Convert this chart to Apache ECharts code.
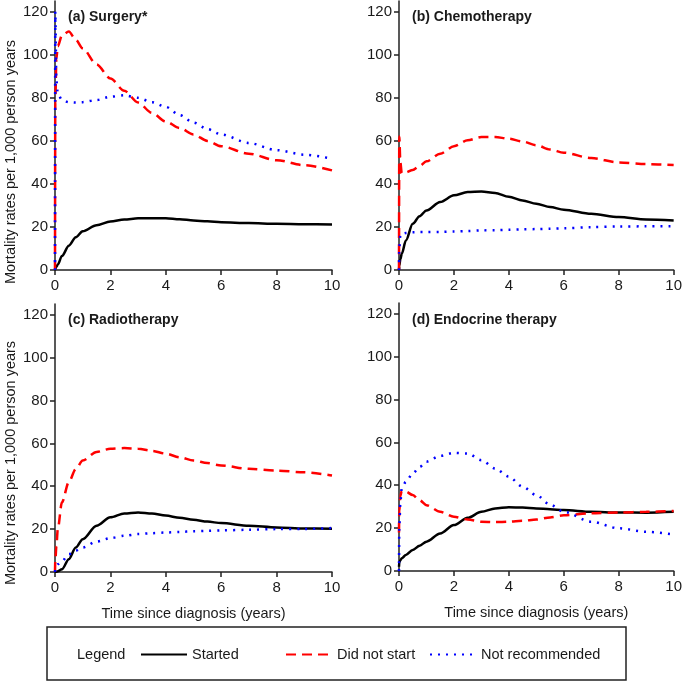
<!DOCTYPE html>
<html>
<head>
<meta charset="utf-8">
<script src="https://cdn.jsdelivr.net/npm/echarts@6/dist/echarts.min.js"></script>
<style>
	html, body { margin: 0; padding: 0; background: #fff; }
	#chart { width: 685px; height: 682px; }
</style>
</head>
<body>
<div id="chart"></div>
<script>
// time since diagnosis (years), shared by every curve
var years = [0, 0.01, 0.05, 0.1, 0.25, 0.5, 0.75, 1, 1.5, 2, 2.5, 3, 3.5, 4, 4.5, 5, 5.5, 6, 7, 8, 9, 10]

// (a) Surgery*
var surgeryStarted = [0, 0.4, 1.5, 2.5, 6.5, 11.3, 15.2, 18, 20.8, 22.5, 23.5, 24, 24.1, 24.1, 23.6, 23, 22.6, 22.2, 21.8, 21.5, 21.3, 21.2]
var surgeryNotStarted = [0, 78, 98, 104, 109, 110.8, 107, 103, 95.5, 89, 83.3, 77.8, 73, 69, 66, 63, 60, 57.5, 54, 51, 48.7, 46.3]
var surgeryNotRec = [0, 120, 88, 82, 79, 78, 77.8, 78, 79, 80.5, 81.2, 80, 78, 75.8, 72, 68.5, 65.5, 63, 59, 55.7, 53.6, 51.7]

// (b) Chemotherapy
var chemoStarted = [0, 2, 5, 7.5, 13.7, 21.5, 25, 27.7, 31.6, 34.7, 36.2, 36.5, 35.8, 34, 32.3, 30.8, 29.3, 28, 26.1, 24.6, 23.5, 23]
var chemoNotStarted = [0, 62, 50, 45, 45.3, 46.5, 48.3, 50.5, 54, 57.5, 60.3, 61.8, 61.8, 61, 59.7, 58, 56, 54.5, 52, 50, 49.2, 48.8]
var chemoNotRec = [0, 10, 16.5, 16.8, 17.2, 17.5, 17.6, 17.6, 17.7, 17.9, 18.1, 18.4, 18.5, 18.7, 18.9, 19, 19.2, 19.4, 19.9, 20.2, 20.3, 20.4]

// (c) Radiotherapy
var radioStarted = [0, 0, 0.1, 0.3, 1.3, 6, 11.4, 15.3, 21.6, 25.5, 27.3, 27.8, 27.3, 26.3, 25.3, 24.4, 23.5, 22.8, 21.6, 20.8, 20.3, 20.2]
var radioNotStarted = [0, 5, 12, 20, 32.5, 42, 48, 52, 56, 57.5, 57.8, 57.5, 56.5, 55.2, 53.5, 52, 50.8, 49.7, 48.1, 47.3, 46.5, 45]
var radioNotRec = [0, 1.5, 3, 3.6, 5, 8.3, 10, 11.4, 14.2, 15.8, 16.9, 17.7, 18.1, 18.4, 18.7, 19, 19.2, 19.4, 19.7, 20, 20.1, 20.5]

// (d) Endocrine therapy
var endoStarted = [2, 4, 5, 5.9, 7.5, 9.8, 11.8, 13.7, 17.5, 21.4, 24.8, 27.6, 29.2, 29.7, 29.6, 29.2, 28.8, 28.4, 27.6, 27.3, 27.2, 27.6]
var endoNotStarted = [18, 28, 35, 37.5, 37, 35.4, 33, 30.7, 27.6, 25.3, 24, 23, 22.8, 23, 23.4, 24, 25, 26, 26.9, 27.3, 27.6, 28]
var endoNotRec = [0, 20, 32, 38.5, 41.6, 45.5, 48.5, 51, 53.7, 55.1, 54.8, 51.7, 47.8, 44, 39.3, 35.4, 31, 27.6, 23, 19.9, 18.3, 17]

var panelTitles = ['(a) Surgery*', '(b) Chemotherapy', '(c) Radiotherapy', '(d) Endocrine therapy']
var groupNames = ['Started', 'Did not start', 'Not recommended']
var yTicks = [0, 20, 40, 60, 80, 100, 120]
var xTicks = [0, 2, 4, 6, 8, 10]

var panels = [
	[surgeryStarted, surgeryNotStarted, surgeryNotRec],
	[chemoStarted, chemoNotStarted, chemoNotRec],
	[radioStarted, radioNotStarted, radioNotRec],
	[endoStarted, endoNotStarted, endoNotRec],
]

var FONT = 'Liberation Sans, Arial, sans-serif'
var TXT = '#1a1a1a'

// plot areas [left, top, width, height]
var boxes = [
	[55, 1, 277, 269],
	[399, 1, 277, 269],
	[55, 304, 277, 268],
	[399, 303, 276, 268],
]

var lineStyles = [
	{ color: '#000000', width: 2.5, type: 'solid' },
	{ color: '#ff0000', width: 2.5, type: [10, 6] },
	{ color: '#0000ff', width: 2.5, type: [2, 6] },
]

function pairs(vals) {
	return years.map(function(t, i) { return [t, vals[i]] })
}

var grid = [], xAxis = [], yAxis = [], series = [], title = []
boxes.forEach(function(b, i) {
	grid.push({ left: b[0], top: b[1], width: b[2], height: b[3] })
	xAxis.push({
		type: 'value', gridIndex: i, min: 0, max: 10, interval: 2,
		name: i >= 2 ? 'Time since diagnosis (years)' : '',
		nameLocation: 'middle', nameGap: 34,
		nameTextStyle: { fontFamily: FONT, fontSize: 14.5, color: TXT },
		splitLine: { show: false },
		axisLine: { lineStyle: { color: '#222', width: 1.5 } },
		axisTick: { length: 5, lineStyle: { color: '#222', width: 1.5 }, customValues: xTicks },
		axisLabel: { fontFamily: FONT, fontSize: 15, color: TXT, margin: 8, customValues: xTicks },
	})
	yAxis.push({
		type: 'value', gridIndex: i, min: 0, max: 125,
		splitLine: { show: false },
		axisLine: { show: true, lineStyle: { color: '#222', width: 1.5 } },
		axisTick: { show: true, length: 5, lineStyle: { color: '#222', width: 1.5 }, customValues: yTicks },
		axisLabel: { fontFamily: FONT, fontSize: 15, color: TXT, margin: 7, customValues: yTicks },
	})
	title.push({
		text: panelTitles[i],
		left: b[0] + 13, top: (i < 2 ? 10 : 313), padding: 0,
		textStyle: { fontFamily: FONT, fontSize: 14, fontWeight: 'bold', color: TXT },
	})
	panels[i].forEach(function(vals, k) {
		series.push({
			name: groupNames[k],
			type: 'line',
			xAxisIndex: i, yAxisIndex: i,
			data: pairs(vals),
			symbol: 'none',
			smooth: 0.3,
			smoothMonotone: 'x',
			lineStyle: lineStyles[k],
			itemStyle: { color: lineStyles[k].color },
			animation: false,
		})
	})
})

var legendLeft = [140, 285, 429]
var legend = groupNames.map(function(n, k) {
	return {
		data: [n], left: legendLeft[k], top: 647, padding: 0,
		itemWidth: 46, itemHeight: 14, itemGap: 0,
		itemStyle: { opacity: 0 },
		textStyle: { fontFamily: FONT, fontSize: 14.5, color: TXT },
	}
})

var chart = echarts.init(document.getElementById('chart'))
chart.setOption({
	backgroundColor: '#fff',
	animation: false,
	title: title,
	grid: grid,
	xAxis: xAxis,
	yAxis: yAxis,
	legend: legend,
	series: series,
	graphic: [
		{ type: 'text', x: 11, y: 162, rotation: Math.PI / 2,
			style: { text: 'Mortality rates per 1,000 person years', fontFamily: FONT, fontSize: 14.5, fill: TXT, textAlign: 'center', textVerticalAlign: 'middle' } },
		{ type: 'text', x: 11, y: 463, rotation: Math.PI / 2,
			style: { text: 'Mortality rates per 1,000 person years', fontFamily: FONT, fontSize: 14.5, fill: TXT, textAlign: 'center', textVerticalAlign: 'middle' } },
		{ type: 'rect', shape: { x: 47, y: 627, width: 579, height: 53 },
			style: { fill: 'none', stroke: '#222', lineWidth: 1.5 } },
		{ type: 'text', x: 77, y: 655,
			style: { text: 'Legend', fontFamily: FONT, fontSize: 14.5, fill: TXT, textVerticalAlign: 'middle' } },
	],
})
</script>
</body>
</html>
